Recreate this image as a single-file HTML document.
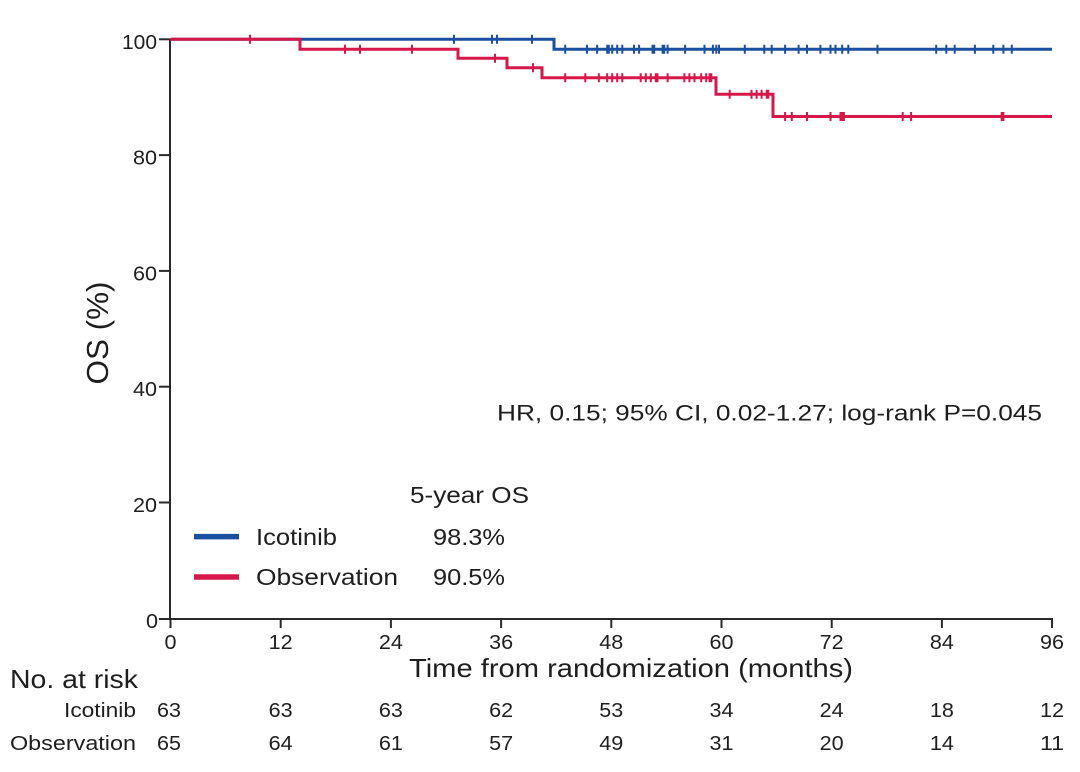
<!DOCTYPE html>
<html>
<head>
<meta charset="utf-8">
<style>
html,body{margin:0;padding:0;background:#fff;}
svg{display:block;}
text{font-family:"Liberation Sans",Arial,sans-serif;fill:#1e1e1e;}
</style>
</head>
<body>
<svg width="1080" height="772" viewBox="0 0 1080 772" xmlns="http://www.w3.org/2000/svg">
<rect width="1080" height="772" fill="#fff"/>

<!-- axes -->
<g stroke="#2a2a2a" stroke-width="2" fill="none">
  <line x1="170" y1="38.5" x2="170" y2="620"/>
  <line x1="169" y1="619" x2="1053" y2="619"/>
  <!-- y ticks -->
  <line x1="159" y1="39.3" x2="170" y2="39.3"/>
  <line x1="159" y1="155.1" x2="170" y2="155.1"/>
  <line x1="159" y1="270.9" x2="170" y2="270.9"/>
  <line x1="159" y1="386.7" x2="170" y2="386.7"/>
  <line x1="159" y1="502.5" x2="170" y2="502.5"/>
  <line x1="159" y1="619" x2="170" y2="619"/>
  <!-- x ticks -->
  <line x1="170.5" y1="619" x2="170.5" y2="628"/>
  <line x1="280.7" y1="619" x2="280.7" y2="628"/>
  <line x1="390.9" y1="619" x2="390.9" y2="628"/>
  <line x1="501.1" y1="619" x2="501.1" y2="628"/>
  <line x1="611.3" y1="619" x2="611.3" y2="628"/>
  <line x1="721.5" y1="619" x2="721.5" y2="628"/>
  <line x1="831.7" y1="619" x2="831.7" y2="628"/>
  <line x1="941.9" y1="619" x2="941.9" y2="628"/>
  <line x1="1052" y1="619" x2="1052" y2="628"/>
</g>

<!-- y tick labels -->
<g font-size="20" text-anchor="end">
  <text x="157" y="49" textLength="35" lengthAdjust="spacingAndGlyphs">100</text>
  <text x="157" y="164.5" textLength="24" lengthAdjust="spacingAndGlyphs">80</text>
  <text x="157" y="280.5" textLength="24" lengthAdjust="spacingAndGlyphs">60</text>
  <text x="157" y="396" textLength="24" lengthAdjust="spacingAndGlyphs">40</text>
  <text x="157" y="512" textLength="24" lengthAdjust="spacingAndGlyphs">20</text>
  <text x="158" y="628" textLength="12" lengthAdjust="spacingAndGlyphs">0</text>
</g>

<!-- x tick labels -->
<g font-size="20" text-anchor="middle">
  <text x="170.5" y="649" textLength="12" lengthAdjust="spacingAndGlyphs">0</text>
  <text x="280.7" y="649" textLength="24" lengthAdjust="spacingAndGlyphs">12</text>
  <text x="390.9" y="649" textLength="24" lengthAdjust="spacingAndGlyphs">24</text>
  <text x="501.1" y="649" textLength="24" lengthAdjust="spacingAndGlyphs">36</text>
  <text x="611.3" y="649" textLength="24" lengthAdjust="spacingAndGlyphs">48</text>
  <text x="721.5" y="649" textLength="24" lengthAdjust="spacingAndGlyphs">60</text>
  <text x="831.7" y="649" textLength="24" lengthAdjust="spacingAndGlyphs">72</text>
  <text x="941.9" y="649" textLength="24" lengthAdjust="spacingAndGlyphs">84</text>
  <text x="1052" y="649" textLength="24" lengthAdjust="spacingAndGlyphs">96</text>
</g>

<!-- axis titles -->
<text x="409" y="677" font-size="26" textLength="444" lengthAdjust="spacingAndGlyphs">Time from randomization (months)</text>
<g transform="translate(108,333) scale(1.1,1)">
  <text transform="rotate(-90)" x="0" y="0" font-size="28" text-anchor="middle" textLength="103" lengthAdjust="spacingAndGlyphs">OS (%)</text>
</g>

<!-- annotation -->
<text x="497" y="420.5" font-size="22" textLength="545" lengthAdjust="spacingAndGlyphs">HR, 0.15; 95% CI, 0.02-1.27; log-rank P=0.045</text>

<!-- legend -->
<text x="410" y="503" font-size="23" textLength="119" lengthAdjust="spacingAndGlyphs">5-year OS</text>
<line x1="194" y1="536.6" x2="239" y2="536.6" stroke="#1b4f9f" stroke-width="5.5"/>
<line x1="194" y1="577" x2="239" y2="577" stroke="#d5174a" stroke-width="5.5"/>
<text x="256" y="545" font-size="23" textLength="81" lengthAdjust="spacingAndGlyphs">Icotinib</text>
<text x="433" y="545" font-size="23" textLength="72" lengthAdjust="spacingAndGlyphs">98.3%</text>
<text x="256" y="585" font-size="23" textLength="142" lengthAdjust="spacingAndGlyphs">Observation</text>
<text x="433" y="585" font-size="23" textLength="72" lengthAdjust="spacingAndGlyphs">90.5%</text>

<!-- Icotinib curve -->
<path d="M170.5,39.3 H554 V49.3 H1052" fill="none" stroke="#1b4f9f" stroke-width="3"/>
<path fill="none" stroke="#1b4f9f" stroke-width="2" d="
M454,34.8v9 M492,34.8v9 M497,34.8v9 M532,34.8v9
M565.2,44.8v9 M587,44.8v9 M597.1,44.8v9 M607.2,44.8v9 M608.8,44.8v9 M612.2,44.8v9 M617.2,44.8v9 M622.3,44.8v9
M634,44.8v9 M639.1,44.8v9 M652.5,44.8v9 M654.2,44.8v9 M662.6,44.8v9 M664.2,44.8v9 M667.6,44.8v9 M685.1,44.8v9
M704.5,44.8v9 M712.9,44.8v9 M716.3,44.8v9 M719,44.8v9 M744.8,44.8v9 M764.3,44.8v9 M771.7,44.8v9 M785.1,44.8v9
M798.6,44.8v9 M807,44.8v9 M820.4,44.8v9 M830.5,44.8v9 M835.5,44.8v9 M842.2,44.8v9 M848.3,44.8v9 M877.5,44.8v9
M936.2,44.8v9 M946.3,44.8v9 M954.7,44.8v9 M974.9,44.8v9 M993.3,44.8v9 M1003.4,44.8v9 M1011.8,44.8v9"/>

<!-- Observation curve -->
<path d="M170.5,39.3 H300 V49.3 H458 V58.3 H507 V67.7 H542 V77.7 H716 V94.3 H773 V116.5 H1052" fill="none" stroke="#d5174a" stroke-width="3"/>
<path fill="none" stroke="#d5174a" stroke-width="2" d="
M250,34.8v9
M345,44.8v9 M360,44.8v9 M412,44.8v9
M495,53.8v9
M533,63.2v9
M565.2,73.2v9 M585.3,73.2v9 M598.8,73.2v9 M607.2,73.2v9 M612.2,73.2v9 M617.2,73.2v9 M622.3,73.2v9 M640.7,73.2v9
M645.8,73.2v9 M650.8,73.2v9 M655.8,73.2v9 M657.5,73.2v9 M667.6,73.2v9 M684.4,73.2v9 M689.4,73.2v9 M694.5,73.2v9
M701.2,73.2v9 M706.2,73.2v9 M709.6,73.2v9 M711.3,73.2v9
M729.7,89.8v9 M751.5,89.8v9 M756.6,89.8v9 M761.6,89.8v9 M766.7,89.8v9 M768.3,89.8v9
M785.1,112v9 M791.8,112v9 M807,112v9 M830.5,112v9 M840.5,112v9 M842.2,112v9 M843.9,112v9 M902.7,112v9
M911.1,112v9 M1001.7,112v9 M1003.4,112v9"/>

<!-- number at risk -->
<text x="10" y="688" font-size="26" textLength="128" lengthAdjust="spacingAndGlyphs">No. at risk</text>
<g font-size="20" text-anchor="end">
  <text x="136" y="717" textLength="72" lengthAdjust="spacingAndGlyphs">Icotinib</text>
  <text x="136" y="750" textLength="126" lengthAdjust="spacingAndGlyphs">Observation</text>
</g>
<g font-size="20" text-anchor="middle">
  <text x="169" y="717" textLength="24" lengthAdjust="spacingAndGlyphs">63</text>
  <text x="280.7" y="717" textLength="24" lengthAdjust="spacingAndGlyphs">63</text>
  <text x="390.9" y="717" textLength="24" lengthAdjust="spacingAndGlyphs">63</text>
  <text x="501.1" y="717" textLength="24" lengthAdjust="spacingAndGlyphs">62</text>
  <text x="611.3" y="717" textLength="24" lengthAdjust="spacingAndGlyphs">53</text>
  <text x="721.5" y="717" textLength="24" lengthAdjust="spacingAndGlyphs">34</text>
  <text x="831.7" y="717" textLength="24" lengthAdjust="spacingAndGlyphs">24</text>
  <text x="941.9" y="717" textLength="24" lengthAdjust="spacingAndGlyphs">18</text>
  <text x="1052" y="717" textLength="24" lengthAdjust="spacingAndGlyphs">12</text>

  <text x="169" y="750" textLength="24" lengthAdjust="spacingAndGlyphs">65</text>
  <text x="280.7" y="750" textLength="24" lengthAdjust="spacingAndGlyphs">64</text>
  <text x="390.9" y="750" textLength="24" lengthAdjust="spacingAndGlyphs">61</text>
  <text x="501.1" y="750" textLength="24" lengthAdjust="spacingAndGlyphs">57</text>
  <text x="611.3" y="750" textLength="24" lengthAdjust="spacingAndGlyphs">49</text>
  <text x="721.5" y="750" textLength="24" lengthAdjust="spacingAndGlyphs">31</text>
  <text x="831.7" y="750" textLength="24" lengthAdjust="spacingAndGlyphs">20</text>
  <text x="941.9" y="750" textLength="24" lengthAdjust="spacingAndGlyphs">14</text>
  <text x="1052" y="750" textLength="24" lengthAdjust="spacingAndGlyphs">11</text>
</g>
</svg>
</body>
</html>
